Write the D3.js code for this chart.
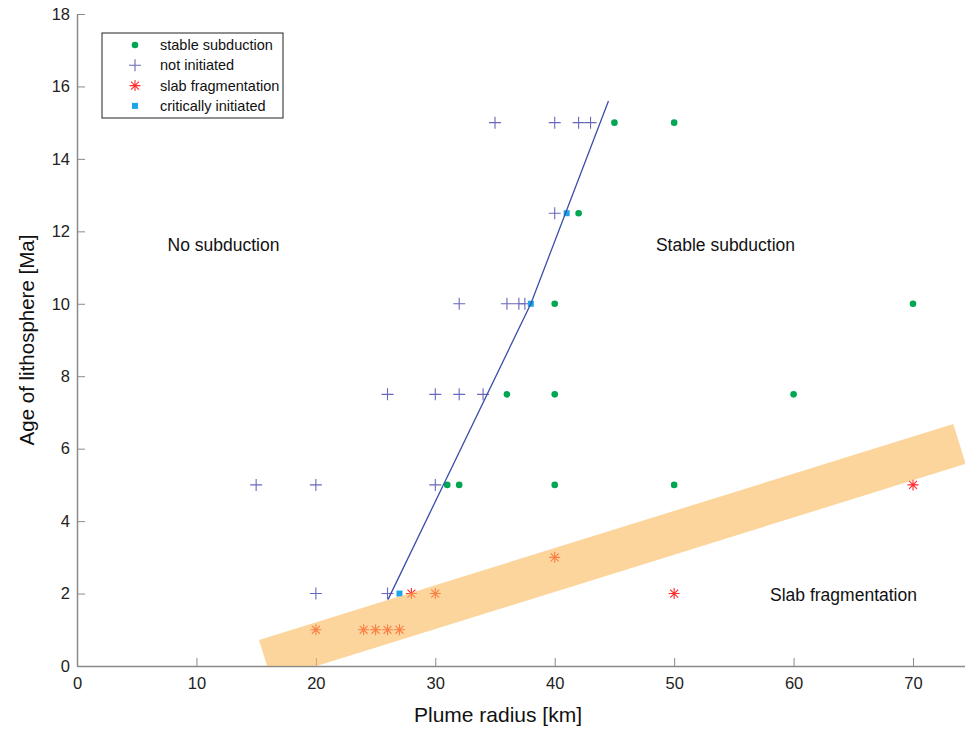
<!DOCTYPE html>
<html>
<head>
<meta charset="utf-8">
<script src="https://cdn.jsdelivr.net/npm/d3@7"></script>
<style>
  body { margin: 0; background: #fff; }
  text { font-family: "Liberation Sans", Arial, sans-serif; }
</style>
</head>
<body>
<div id="chart"></div>
<script>
// data
var stableX = [45, 50, 42, 40, 70, 36, 40, 60, 31, 32, 40, 50],
    stableY = [15, 15, 12.5, 10, 10, 7.5, 7.5, 7.5, 5, 5, 5, 5];
var notInitX = [35, 40, 42, 43, 40, 32, 36, 37, 37.5, 26, 30, 32, 34, 15, 20, 30, 20, 26],
    notInitY = [15, 15, 15, 15, 12.5, 10, 10, 10, 10, 7.5, 7.5, 7.5, 7.5, 5, 5, 5, 2, 2];
var slabX = [20, 24, 25, 26, 27, 28, 30, 40, 50, 70],
    slabY = [1, 1, 1, 1, 1, 2, 2, 3, 2, 5];
var critX = [41, 38, 27],
    critY = [12.5, 10, 2];
// boundary line and transition band
var lineX = [26.05, 38, 44.5],
    lineY = [1.84, 10, 15.6];
var bandX = [15.24, 73.37, 74.41, 16.29],
    bandY = [0.718, 6.68, 5.58, -0.387];

var xTicks = [0, 10, 20, 30, 40, 50, 60, 70],
    yTicks = [0, 2, 4, 6, 8, 10, 12, 14, 16, 18];

var legendItems = ["stable subduction", "not initiated", "slab fragmentation", "critically initiated"];
var regionLabels = [
  {text: "No subduction", x: 12.27, y: 11.62},
  {text: "Stable subduction", x: 54.3, y: 11.62},
  {text: "Slab fragmentation", x: 64.18, y: 1.96}
];

var width = 965, height = 729;

var x = d3.scaleLinear().domain([0, 75]).range([77, 77 + 75 * 11.943]);
var y = d3.scaleLinear().domain([0, 18]).range([666, 14]);

var svg = d3.select("#chart").append("svg")
    .attr("width", width)
    .attr("height", height);

svg.append("clipPath").attr("id", "plot")
  .append("rect")
    .attr("x", x(0)).attr("y", y(18))
    .attr("width", x(75) - x(0)).attr("height", y(0) - y(18));

// region labels with faint white boxes
regionLabels.forEach(function (d) {
  svg.append("rect")
    .attr("x", x(d.x) - 80).attr("y", y(d.y) - 24)
    .attr("width", 160).attr("height", 48)
    .attr("fill", "#fff");
  svg.append("text")
    .attr("x", x(d.x)).attr("y", y(d.y) + 6)
    .attr("text-anchor", "middle")
    .attr("font-size", 17.5)
    .attr("fill", "#111")
    .text(d.text);
});

var axisColor = "#8a8a8a";

var gx = svg.append("g")
    .attr("transform", `translate(0,${y(0)})`)
    .call(d3.axisBottom(x).tickValues(xTicks).tickSize(-8).tickSizeOuter(0).tickPadding(11));
var gy = svg.append("g")
    .attr("transform", `translate(${x(0)},0)`)
    .call(d3.axisLeft(y).tickValues(yTicks).tickSize(-8).tickSizeOuter(0).tickPadding(7));

[gx, gy].forEach(function (g) {
  g.select(".domain").attr("stroke", axisColor).attr("stroke-width", 1.5);
  g.selectAll(".tick line").attr("stroke", axisColor);
  g.selectAll(".tick text").attr("font-size", 16.5).attr("fill", "#222")
    .attr("font-family", "Liberation Sans, Arial, sans-serif");
});

svg.append("text")
    .attr("x", 498).attr("y", 722)
    .attr("text-anchor", "middle")
    .attr("font-size", 21)
    .attr("fill", "#111")
    .text("Plume radius [km]");
svg.append("text")
    .attr("transform", "translate(34,340) rotate(-90)")
    .attr("text-anchor", "middle")
    .attr("font-size", 20.5)
    .attr("fill", "#111")
    .text("Age of lithosphere [Ma]");

var plot = svg.append("g").attr("clip-path", "url(#plot)");

var green = "#00a651", cross = "#6868bc", red = "#ff2a2a", cyan = "#1ca6e8", lineBlue = "#3a4ea8";

function drawCross(g, cx, cy, s) {
  g.append("path")
    .attr("d", `M${cx - s},${cy}H${cx + s}M${cx},${cy - s}V${cy + s}`)
    .attr("stroke", cross).attr("stroke-width", 1.1).attr("fill", "none");
}
function drawStar(g, cx, cy, s) {
  var d = `M${cx - s},${cy}H${cx + s}M${cx},${cy - s}V${cy + s}`;
  var k = s * 0.72;
  d += `M${cx - k},${cy - k}L${cx + k},${cy + k}M${cx - k},${cy + k}L${cx + k},${cy - k}`;
  g.append("path").attr("d", d)
    .attr("stroke", red).attr("stroke-width", 1.1).attr("fill", "none");
}

var pts = plot.append("g");
slabX.forEach(function (v, i) { drawStar(pts, x(v), y(slabY[i]), 5.5); });
notInitX.forEach(function (v, i) { drawCross(pts, x(v), y(notInitY[i]), 6); });
stableX.forEach(function (v, i) {
  pts.append("circle").attr("cx", x(v)).attr("cy", y(stableY[i])).attr("r", 3.3).attr("fill", green);
});
critX.forEach(function (v, i) {
  pts.append("rect").attr("x", x(v) - 3).attr("y", y(critY[i]) - 3)
    .attr("width", 6).attr("height", 6).attr("fill", cyan);
});

// transition band drawn over the points, semi-transparent
plot.append("path")
    .datum(d3.range(bandX.length))
    .attr("d", d3.line().x(function (i) { return x(bandX[i]); }).y(function (i) { return y(bandY[i]); }).curve(d3.curveLinearClosed))
    .attr("fill", "#f9b95a")
    .attr("fill-opacity", 0.6);

plot.append("path")
    .datum(d3.range(lineX.length))
    .attr("d", d3.line().x(function (i) { return x(lineX[i]); }).y(function (i) { return y(lineY[i]); }))
    .attr("fill", "none")
    .attr("stroke", lineBlue)
    .attr("stroke-width", 1.3);

// legend
var lg = svg.append("g").attr("transform", "translate(102,33)");
lg.append("rect").attr("width", 181).attr("height", 85)
  .attr("fill", "#fff").attr("stroke", "#222").attr("stroke-width", 1);
legendItems.forEach(function (t, i) {
  var ly = 12 + i * 20.3, lx = 33;
  if (i === 0) lg.append("circle").attr("cx", lx).attr("cy", ly).attr("r", 3.3).attr("fill", green);
  if (i === 1) drawCross(lg, lx, ly, 6);
  if (i === 2) drawStar(lg, lx, ly, 5.5);
  if (i === 3) lg.append("rect").attr("x", lx - 3).attr("y", ly - 3).attr("width", 6).attr("height", 6).attr("fill", cyan);
  lg.append("text").attr("x", 58).attr("y", ly + 5)
    .attr("font-size", 14.5).attr("fill", "#111").text(t);
});
</script>
</body>
</html>
